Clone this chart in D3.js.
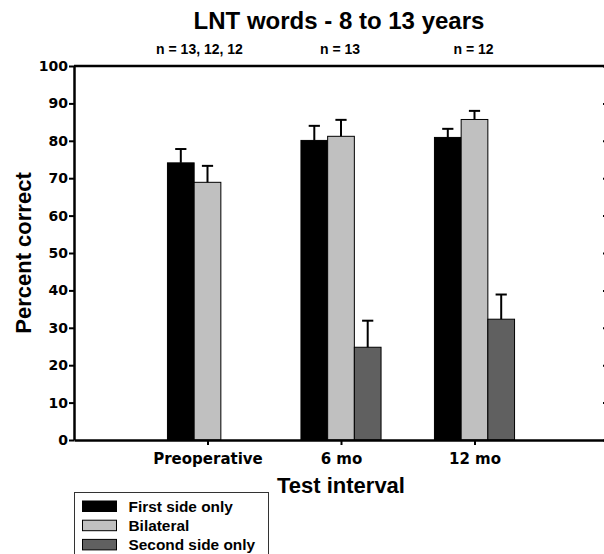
<!DOCTYPE html>
<html>
<head>
<meta charset="utf-8">
<script src="https://cdn.jsdelivr.net/npm/d3@7"></script>
<style>
  body { margin: 0; background: #fff; }
  svg { display: block; }
  .axis path, .axis line { stroke: #000; }
  .lbl { font-family: "Liberation Sans", Arial, sans-serif; font-weight: bold; fill: #000; }
  .tick text { font-family: "DejaVu Sans", sans-serif; font-weight: bold; fill: #000; }
</style>
</head>
<body>
<div id="chart"></div>
<script>
// values
const categories = ['Preoperative', '6 mo', '12 mo'];
const nLabels = ['n = 13, 12, 12', 'n = 13', 'n = 12'];
const seriesNames = ['First side only', 'Bilateral', 'Second side only'];
const firstSide = [74.1, 80.1, 80.9];
const firstSideErr = [3.7, 3.9, 2.3];
const bilateral = [68.9, 81.2, 85.7];
const bilateralErr = [4.4, 4.4, 2.3];
const secondSide = [null, 24.8, 32.3];
const secondSideErr = [null, 7.1, 6.6];
const yTicks = [0, 10, 20, 30, 40, 50, 60, 70, 80, 90, 100];

const colors = ['#000000', '#c0c0c0', '#606060'];
const series = [
    { name: seriesNames[0], values: firstSide, errs: firstSideErr },
    { name: seriesNames[1], values: bilateral, errs: bilateralErr },
    { name: seriesNames[2], values: secondSide, errs: secondSideErr }
];

const width = 604;
const height = 554;
const plot = { left: 74, right: 608, top: 66, bottom: 440 };

const svg = d3.select('#chart').append('svg')
    .attr('width', width)
    .attr('height', height);

const x = d3.scaleLinear().domain([0, categories.length + 1]).range([plot.left, plot.right]);
const y = d3.scaleLinear().domain([0, 100]).range([plot.bottom, plot.top]);

const groupW = 0.6 * (x(1) - x(0));
const barW = groupW / series.length;

// bars
series.forEach((s, si) => {
    const data = s.values.map((v, i) => ({ v: v, e: s.errs[i], i: i })).filter((d) => d.v !== null);
    const bx = (d) => x(d.i + 1) - groupW / 2 + si * barW;

    svg.append('g').selectAll('rect').data(data).enter().append('rect')
        .attr('x', bx)
        .attr('y', (d) => y(d.v))
        .attr('width', barW)
        .attr('height', (d) => y(0) - y(d.v))
        .attr('fill', colors[si])
        .attr('stroke', '#000')
        .attr('stroke-width', 1);

    const eg = svg.append('g').attr('stroke', '#000').attr('stroke-width', 2);
    eg.selectAll('line.stem').data(data).enter().append('line')
        .attr('class', 'stem')
        .attr('x1', (d) => bx(d) + barW / 2)
        .attr('x2', (d) => bx(d) + barW / 2)
        .attr('y1', (d) => y(d.v))
        .attr('y2', (d) => y(d.v + d.e));
    eg.selectAll('line.cap').data(data).enter().append('line')
        .attr('class', 'cap')
        .attr('x1', (d) => bx(d) + barW / 2 - barW * 0.21)
        .attr('x2', (d) => bx(d) + barW / 2 + barW * 0.21)
        .attr('y1', (d) => y(d.v + d.e))
        .attr('y2', (d) => y(d.v + d.e));
});

// axes
const yAxis = svg.append('g').attr('class', 'axis')
    .attr('transform', `translate(${plot.left},0)`)
    .call(d3.axisLeft(y).tickValues(yTicks).tickSize(5).tickSizeOuter(0).tickPadding(1));
yAxis.selectAll('.tick text').attr('font-size', 14);

const rAxis = svg.append('g').attr('class', 'axis')
    .attr('transform', `translate(${plot.right},0)`)
    .call(d3.axisLeft(y).tickValues(yTicks).tickSize(5).tickSizeOuter(0).tickFormat(''));

const xAxis = svg.append('g').attr('class', 'axis')
    .attr('transform', `translate(0,${plot.bottom})`)
    .call(d3.axisBottom(x).tickValues(categories.map((c, i) => i + 1))
        .tickFormat((d) => categories[d - 1]).tickSize(5).tickSizeOuter(0).tickPadding(8));
xAxis.selectAll('.tick text').attr('font-size', 15);

svg.append('line').attr('class', 'axis')
    .attr('x1', plot.left).attr('x2', plot.right)
    .attr('y1', plot.top).attr('y2', plot.top)
    .attr('stroke', '#000');

svg.selectAll('.axis path, line.axis').attr('stroke-width', 2.5);
svg.selectAll('.axis .tick line').attr('stroke-width', 2);

// titles
svg.append('text').attr('class', 'lbl')
    .attr('x', 339).attr('y', 29)
    .attr('text-anchor', 'middle').attr('font-size', 24)
    .text('LNT words - 8 to 13 years');

svg.append('g').selectAll('text').data(nLabels).enter().append('text')
    .attr('class', 'lbl')
    .attr('x', (d, i) => x(i + 1) - (i === 0 ? 8 : 1))
    .attr('y', 54)
    .attr('text-anchor', 'middle').attr('font-size', 14)
    .text((d) => d);

svg.append('text').attr('class', 'lbl')
    .attr('transform', `translate(31,${(plot.top + plot.bottom) / 2}) rotate(-90)`)
    .attr('text-anchor', 'middle').attr('font-size', 22)
    .text('Percent correct');

svg.append('text').attr('class', 'lbl')
    .attr('x', (plot.left + plot.right) / 2).attr('y', 493)
    .attr('text-anchor', 'middle').attr('font-size', 22)
    .text('Test interval');

// legend
const legend = svg.append('g').attr('transform', 'translate(74.5,492.5)');
legend.append('rect')
    .attr('width', 194).attr('height', 80)
    .attr('fill', '#fff').attr('stroke', '#333').attr('stroke-width', 1);

series.forEach((s, si) => {
    const le = legend.append('g').attr('transform', `translate(8,${8.5 + si * 19.2})`);
    le.append('rect')
        .attr('width', 34).attr('height', 10.5)
        .attr('fill', colors[si]).attr('stroke', '#000').attr('stroke-width', 1);
    le.append('text').attr('class', 'lbl')
        .attr('x', 46).attr('y', 10.5)
        .attr('font-size', 15.4)
        .text(s.name);
});
</script>
</body>
</html>
